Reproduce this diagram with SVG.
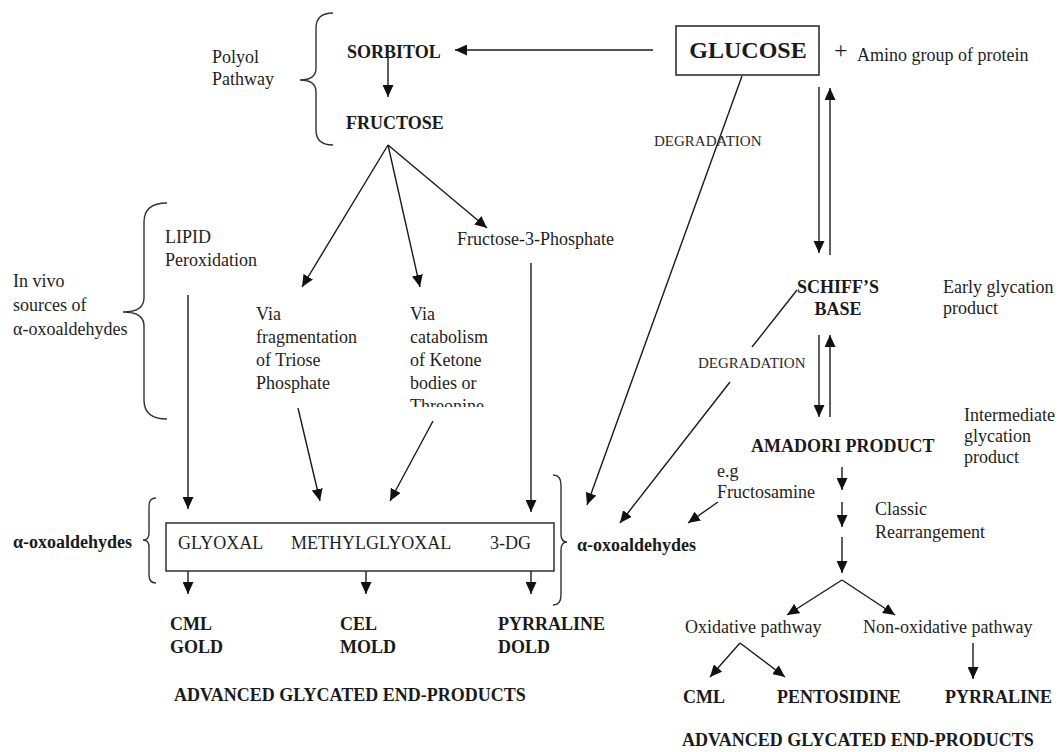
<svg xmlns="http://www.w3.org/2000/svg" width="1062" height="752" viewBox="0 0 1062 752">
<style>
.t{font-family:"Liberation Serif","Times New Roman",serif;font-size:18px;fill:#1e1e1e}
.b{font-family:"Liberation Serif","Times New Roman",serif;font-size:18px;font-weight:bold;fill:#1a1a1a}
.s{font-family:"Liberation Serif","Times New Roman",serif;font-size:15px;fill:#2a2a2a}
.ln{stroke:#1a1a1a;stroke-width:1.4;fill:none}
.ar{stroke:#1a1a1a;stroke-width:1.4;fill:none;marker-end:url(#ah)}
.br{stroke:#333;stroke-width:1.4;fill:none}
</style>
<defs>
<marker id="ah" markerUnits="userSpaceOnUse" markerWidth="12" markerHeight="11" refX="12" refY="5.5" orient="auto">
<path d="M0,0 L12,5.5 L0,11 z" fill="#111"/>
</marker>
<clipPath id="clipT"><rect x="395" y="390" width="140" height="17"/></clipPath>
</defs>
<rect width="1062" height="752" fill="#fff"/>

<g id="connectors">
<line class="ar" x1="653" y1="50" x2="455" y2="50"/>
<line class="ar" x1="388" y1="56" x2="388" y2="97"/>
<line class="ar" x1="388" y1="145" x2="302" y2="287"/>
<line class="ar" x1="388" y1="145" x2="420" y2="287"/>
<line class="ar" x1="388" y1="145" x2="487" y2="228"/>
<line class="ar" x1="742" y1="76" x2="587" y2="505"/>
<line class="ar" x1="819" y1="87" x2="819" y2="253"/>
<line class="ar" x1="830" y1="255" x2="830" y2="88"/>
<line class="ar" x1="819" y1="335" x2="819" y2="417"/>
<line class="ar" x1="830" y1="417" x2="830" y2="335"/>
<line class="ln" x1="797" y1="290" x2="752" y2="347"/>
<line class="ar" x1="730" y1="382" x2="620" y2="523"/>
<line class="ar" x1="718" y1="502" x2="688" y2="523"/>
<line class="ar" x1="842" y1="467" x2="842" y2="490"/>
<line class="ar" x1="842" y1="502" x2="842" y2="527"/>
<line class="ar" x1="842" y1="537" x2="842" y2="573"/>
<line class="ar" x1="842" y1="580" x2="787" y2="615"/>
<line class="ar" x1="842" y1="580" x2="895" y2="615"/>
<line class="ar" x1="740" y1="643" x2="710" y2="677"/>
<line class="ar" x1="740" y1="643" x2="785" y2="677"/>
<line class="ar" x1="973" y1="643" x2="973" y2="679"/>
<line class="ar" x1="188" y1="295" x2="188" y2="509"/>
<line class="ar" x1="298" y1="408" x2="320" y2="501"/>
<line class="ar" x1="433" y1="421" x2="390" y2="501"/>
<line class="ar" x1="531" y1="263" x2="531" y2="512"/>
<line class="ar" x1="188" y1="571" x2="188" y2="594"/>
<line class="ar" x1="366" y1="571" x2="366" y2="594"/>
<line class="ar" x1="531" y1="571" x2="531" y2="594"/>
</g>

<g id="braces">
<path class="br" d="M333,13 Q316,13 316,28 L316,68 Q316,80 300,80 Q316,80 316,92 L316,130 Q316,145 333,145"/>
<path class="br" d="M167,203 Q144,203 144,222 L144,298 Q144,312 123,312 Q144,312 144,326 L144,400 Q144,419 167,419"/>
<path class="br" d="M156,498 Q149,498 149,506 L149,533 Q149,540 143,540 Q149,540 149,547 L149,575 Q149,583 156,583"/>
<path class="br" d="M553,475 Q561,475 561,485 L561,534 Q561,542 567,542 Q561,542 561,550 L561,595 Q561,605 553,605"/>
</g>

<g id="glucose">
<rect x="676" y="26" width="143" height="49" fill="#fff" stroke="#222" stroke-width="1.5"/>
<text class="b" x="748" y="58" text-anchor="middle" style="font-size:24px">GLUCOSE</text>
</g>
<g id="amino">
<text class="t" x="834" y="58" style="font-size:24px">+</text>
<text class="t" x="857" y="61">Amino group of protein</text>
</g>
<g id="polyol"><text class="t" x="212" y="63">Polyol</text><text class="t" x="212" y="85">Pathway</text></g>
<g id="sorbitol"><text class="b" x="347" y="58">SORBITOL</text></g>
<g id="fructose"><text class="b" x="346" y="129">FRUCTOSE</text></g>
<g id="degradation1"><text class="s" x="654" y="146">DEGRADATION</text></g>
<g id="invivo"><text class="t" x="13" y="287">In vivo</text><text class="t" x="13" y="311">sources of</text><text class="t" x="13" y="335">α-oxoaldehydes</text></g>
<g id="lipid"><text class="t" x="165" y="243">LIPID</text><text class="t" x="165" y="266">Peroxidation</text></g>
<g id="f3p"><text class="t" x="457" y="245">Fructose-3-Phosphate</text></g>
<g id="triose"><text class="t" x="256" y="320">Via</text><text class="t" x="256" y="343">fragmentation</text><text class="t" x="256" y="366">of Triose</text><text class="t" x="256" y="389">Phosphate</text></g>
<g id="ketone"><text class="t" x="410" y="320">Via</text><text class="t" x="410" y="343">catabolism</text><text class="t" x="410" y="366">of Ketone</text><text class="t" x="410" y="389">bodies or</text><text class="t" x="410" y="412" clip-path="url(#clipT)">Threonine</text></g>
<g id="schiff"><text class="b" x="838" y="293" text-anchor="middle">SCHIFF’S</text><text class="b" x="838" y="315" text-anchor="middle">BASE</text></g>
<g id="early"><text class="t" x="943" y="293">Early glycation</text><text class="t" x="943" y="314">product</text></g>
<g id="degradation2"><text class="s" x="698" y="368">DEGRADATION</text></g>
<g id="intermediate"><text class="t" x="964" y="421">Intermediate</text><text class="t" x="964" y="442">glycation</text><text class="t" x="964" y="463">product</text></g>
<g id="amadori"><text class="b" x="751" y="452">AMADORI PRODUCT</text></g>
<g id="fructosamine"><text class="t" x="717" y="477">e.g</text><text class="t" x="717" y="498">Fructosamine</text></g>
<g id="classic"><text class="t" x="875" y="515">Classic</text><text class="t" x="875" y="538">Rearrangement</text></g>
<g id="oxo-left"><text class="b" x="13" y="548">α-oxoaldehydes</text></g>
<g id="oxo-box">
<rect x="166" y="523" width="388" height="48" fill="#fff" stroke="#222" stroke-width="1.4"/>
<text class="t" x="178" y="549">GLYOXAL</text>
<text class="t" x="291" y="549">METHYLGLYOXAL</text>
<text class="t" x="490" y="549">3-DG</text>
</g>
<g id="oxo-right"><text class="b" x="577" y="551">α-oxoaldehydes</text></g>
<g id="cml-gold"><text class="b" x="170" y="630">CML</text><text class="b" x="170" y="653">GOLD</text></g>
<g id="cel-mold"><text class="b" x="340" y="630">CEL</text><text class="b" x="340" y="653">MOLD</text></g>
<g id="pyr-dold"><text class="b" x="498" y="630">PYRRALINE</text><text class="b" x="498" y="653">DOLD</text></g>
<g id="age-left"><text class="b" x="174" y="701">ADVANCED GLYCATED END-PRODUCTS</text></g>
<g id="oxidative"><text class="t" x="685" y="633">Oxidative pathway</text></g>
<g id="nonoxidative"><text class="t" x="863" y="633">Non-oxidative pathway</text></g>
<g id="cml2"><text class="b" x="683" y="703">CML</text></g>
<g id="pentosidine"><text class="b" x="777" y="703">PENTOSIDINE</text></g>
<g id="pyrraline2"><text class="b" x="945" y="703">PYRRALINE</text></g>
<g id="age-right"><text class="b" x="682" y="746">ADVANCED GLYCATED END-PRODUCTS</text></g>
</svg>
